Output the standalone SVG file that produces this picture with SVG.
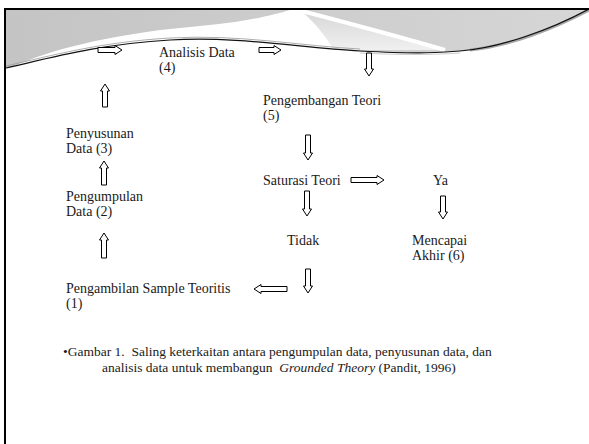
<svg xmlns="http://www.w3.org/2000/svg" width="589" height="444" viewBox="0 0 589 444">
<style>
.t{font-family:'Liberation Serif',Tinos,'Times New Roman','DejaVu Serif',serif;font-size:14px;fill:#1a1a1a;white-space:pre}
.c{font-family:'Liberation Serif',Tinos,'Times New Roman','DejaVu Serif',serif;font-size:13.5px;fill:#1a1a1a;white-space:pre}
.arr{fill:#fff;stroke:#000;stroke-width:1;stroke-linejoin:miter}
</style>
<defs>
<linearGradient id="g1" x1="0" y1="0" x2="1" y2="0">
<stop offset="0" stop-color="#c4c4c4"/>
<stop offset="0.5" stop-color="#cdcdcd"/>
<stop offset="1" stop-color="#d6d6d6"/>
</linearGradient>
<linearGradient id="g2" x1="0" y1="0" x2="0" y2="1">
<stop offset="0" stop-color="#d6d6d6"/>
<stop offset="1" stop-color="#f0f0f0"/>
</linearGradient>
</defs>
<rect width="589" height="444" fill="#fff"/>
<g id="header">
<path d="M6,68 C50,58 100,44 170,40 C240,36 300,48 360,51 C420,54 430,53 460,51 C500,48 550,30 589,9 V10 H6 Z" fill="url(#g1)"/>
<path d="M300,10 C340,20 390,33 445,50 L300,50 Z" fill="url(#g2)"/>
<path d="M6,70 C40,52 110,34 190,27 C240,23 270,16 290,10 L300,10 C318,25 328,40 335,52 L6,80 Z" fill="#fff"/>
<path d="M298,10 C340,21 390,34 445,50" fill="none" stroke="#fff" stroke-width="4"/>
<path d="M470,50 C510,46 555,28 589,10" fill="none" stroke="#a8a8a8" stroke-width="3"/>
<path d="M6,66 C50,56 100,42 170,38 C240,34 300,46 360,49" fill="none" stroke="#999" stroke-width="0.8"/>
<path d="M6,68 C50,58 100,44 170,40 C240,36 300,48 360,51 C420,54 430,53 460,51 C500,48 550,30 589,9" fill="none" stroke="#111" stroke-width="1.2"/>
<path d="M360,53 C400,55 430,55 460,53" fill="none" stroke="#ccc" stroke-width="1"/>
<line x1="4" y1="9" x2="589" y2="9" stroke="#000" stroke-width="2"/>
<line x1="5" y1="8" x2="5" y2="444" stroke="#000" stroke-width="2"/>
</g>
<g id="connectors">
<path class="arr" d="M98,47.5 V52.5 H115 V54.5 L122,50 L115,45.5 V47.5 Z"/>
<path class="arr" d="M259,47.5 V52.5 H274 V54.5 L281,50 L274,45.5 V47.5 Z"/>
<path class="arr" d="M366.5,53 H371.5 V69 H373.5 L369,76 L364.5,69 H366.5 Z"/>
<path class="arr" d="M102.5,107 H107.5 V91 H109.5 L105,84 L100.5,91 H102.5 Z"/>
<path class="arr" d="M101.5,185 H106.5 V168 H108.5 L104,161 L99.5,168 H101.5 Z"/>
<path class="arr" d="M101.5,258 H106.5 V240 H108.5 L104,233 L99.5,240 H101.5 Z"/>
<path class="arr" d="M305.5,135 H310.5 V153 H312.5 L308,160 L303.5,153 H305.5 Z"/>
<path class="arr" d="M351,177.5 V182.5 H377 V184.5 L384,180 L377,175.5 V177.5 Z"/>
<path class="arr" d="M304.5,191 H309.5 V209 H311.5 L307,216 L302.5,209 H304.5 Z"/>
<path class="arr" d="M440.5,196 H445.5 V212 H447.5 L443,219 L438.5,212 H440.5 Z"/>
<path class="arr" d="M305.5,269 H310.5 V286 H312.5 L308,293 L303.5,286 H305.5 Z"/>
<path class="arr" d="M287,286.5 V291.5 H261 V293.5 L254,289 L261,284.5 V286.5 Z"/>
</g>
<g id="n4"><text class="t" x="159" y="57">Analisis Data</text><text class="t" x="159" y="72">(4)</text></g>
<g id="n5"><text class="t" x="263" y="105">Pengembangan Teori</text><text class="t" x="263" y="120">(5)</text></g>
<g id="n3"><text class="t" x="66" y="138">Penyusunan</text><text class="t" x="66" y="153">Data (3)</text></g>
<g id="sat"><text class="t" x="263" y="185">Saturasi Teori</text></g>
<g id="ya"><text class="t" x="433" y="185">Ya</text></g>
<g id="n2"><text class="t" x="66" y="201">Pengumpulan</text><text class="t" x="66" y="216">Data (2)</text></g>
<g id="tidak"><text class="t" x="287" y="245">Tidak</text></g>
<g id="n6"><text class="t" x="412" y="245">Mencapai</text><text class="t" x="412" y="260">Akhir (6)</text></g>
<g id="n1"><text class="t" x="66" y="293">Pengambilan Sample Teoritis</text><text class="t" x="66" y="308">(1)</text></g>
<g id="caption">
<text class="c" x="63" y="356">•Gambar 1.  Saling keterkaitan antara pengumpulan data, penyusunan data, dan</text>
<text class="c" x="102" y="372">analisis data untuk membangun  <tspan font-style="italic">Grounded Theory</tspan> (Pandit, 1996)</text>
</g>
</svg>
